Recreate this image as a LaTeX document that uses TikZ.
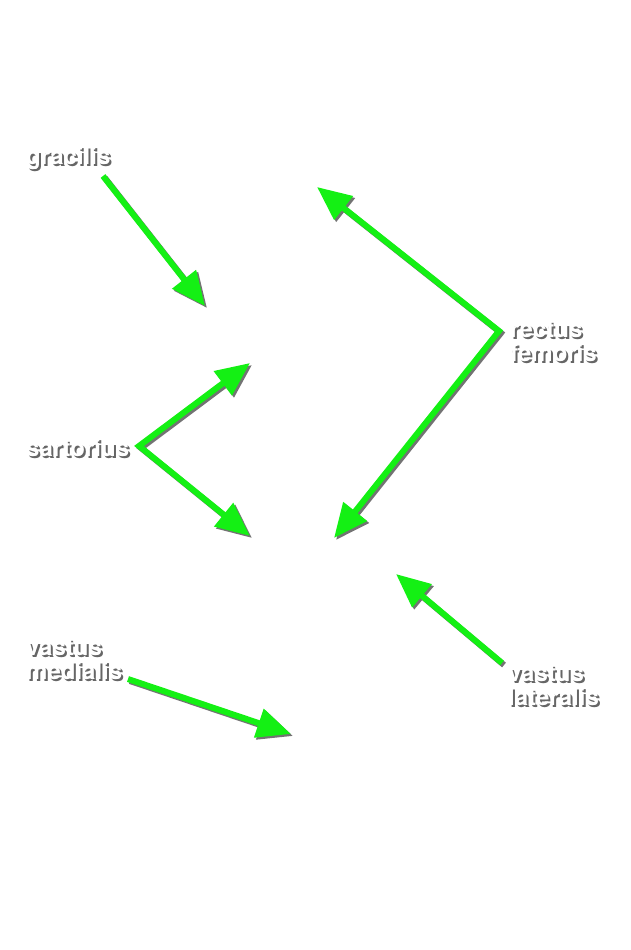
\documentclass[tikz,border=0pt]{standalone}
\usepackage{fontspec}
\setmainfont{TeX Gyre Heros}
\usepackage{xcolor}
\usetikzlibrary{arrows.meta, positioning}
\definecolor{arrowgreen}{RGB}{20,240,20}
\newcommand{\shd}[1]{\leavevmode\rlap{\raisebox{-2pt}{\kern2pt\textcolor{black!60}{#1}}}\textcolor{white}{#1}}
\tikzset{
    labelnode/.style = {draw=none, fill=none, inner sep=0pt, anchor=base west, align=left,
      font=\fontsize{24}{24}\selectfont\bfseries},
    pointer/.style = {arrowgreen, line width=6pt, line join=miter, -{Triangle[length=34pt, width=29pt]}},
    junction/.style = {arrowgreen, line width=6pt, line join=miter,
      {Triangle[length=34pt, width=29pt]}-{Triangle[length=34pt, width=29pt]}},
    shadow/.style = {black!55, transform canvas={shift={(2pt,-2pt)}}},
    noshadow/.style = {}
}
\begin{document}
\begin{tikzpicture}[x=1pt, y=-1pt]
    \useasboundingbox (0,0) rectangle (631,950);

    % labels (two-line labels are placed at the baseline of their last line)
    \node [name=gracilis, labelnode] at (26,164) {\shd{gracilis}};
    \node [name=sartorius, labelnode] at (26,456) {\shd{sartorius}};
    \node [name=rectus, labelnode] at (510,361) {\shd{rectus}\\\shd{femoris}};
    \node [name=medialis, labelnode] at (26,679) {\shd{vastus}\\\shd{medialis}};
    \node [name=lateralis, labelnode] at (508,705) {\shd{vastus}\\\shd{lateralis}};

    % arrow ends
    \coordinate (gr-start) at (103,176);
    \coordinate (gr-tip) at (205,306);
    \coordinate (sa-joint) at (139,446);
    \coordinate (sa-up) at (250,363);
    \coordinate (sa-down) at (250,536);
    \coordinate (rf-joint) at (499,331);
    \coordinate (rf-up) at (317,187);
    \coordinate (rf-down) at (334,538);
    \coordinate (vm-start) at (128,679);
    \coordinate (vm-tip) at (291,734);
    \coordinate (vl-start) at (502,663);
    \coordinate (vl-tip) at (396,574);

    % arrows, shadow first
    \foreach \s in {shadow, noshadow}{
        \draw [pointer, \s] (gr-start) -- (gr-tip);
        \draw [junction, \s] (sa-up) -- (sa-joint) -- (sa-down);
        \draw [junction, \s] (rf-up) -- (rf-joint) -- (rf-down);
        \draw [pointer, \s] (vm-start) -- (vm-tip);
        \draw [pointer, \s] (vl-start) -- (vl-tip);
    }
\end{tikzpicture}
\end{document}
